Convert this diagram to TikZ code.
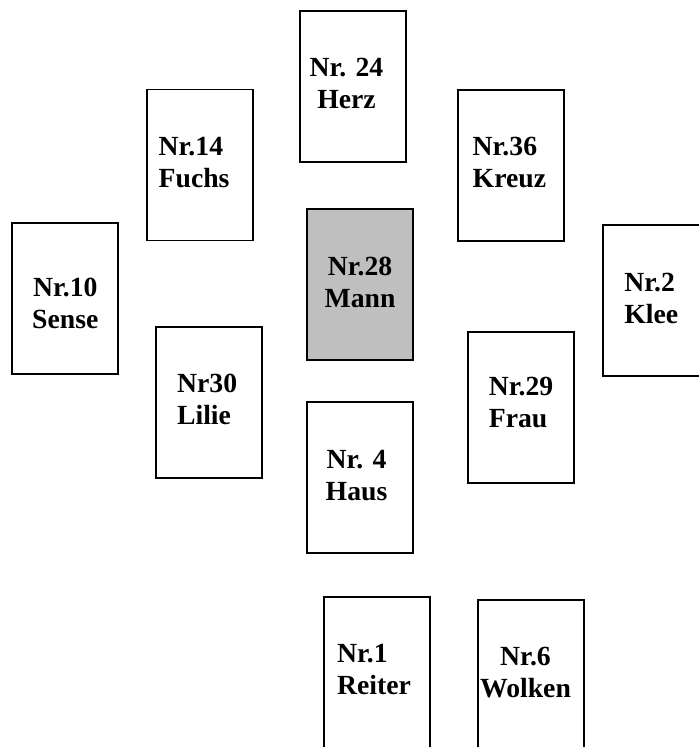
\documentclass[tikz,border=0pt]{standalone}
\usepackage{fontspec}
\setmainfont{Liberation Serif}
\begin{document}
\begin{tikzpicture}[x=0.5pt,y=-0.5pt,
        card/.style={draw=black,rectangle,line width=0.9pt,minimum width=53pt,minimum height=75.5pt,inner sep=0pt,fill=white},
        man/.style={card,fill=black!25},
        lbl/.style={inner sep=0pt,font=\bfseries\fontsize{13.85}{16}\selectfont},
        lblc/.style={lbl,anchor=base,align=center},
        lbll/.style={lbl,anchor=base west,align=left}
      ]
      \useasboundingbox (0,0) rectangle (698,747);
      \node[card] (herz) at (353,86.3) {};
      \node[card] (fuchs) at (199.7,165) {};
      \node[card] (kreuz) at (511,165.2) {};
      \node[card] (sense) at (65.3,298.3) {};
      \node[man] (mann) at (360,284.2) {};
      \node[card] (klee) at (656,300.5) {};
      \node[card] (lilie) at (209.3,402.5) {};
      \node[card] (frau) at (521.3,407.2) {};
      \node[card] (haus) at (360,477.8) {};
      \node[card] (reiter) at (377.3,672.5) {};
      \node[card] (wolken) at (531.3,675.2) {};
      \node[lblc] (herzt) at ([xshift=-3.25pt,yshift=-49.5pt]herz.north) {Nr. 24\\Herz};
      \node[lbll] (fuchst) at ([xshift=-20.7pt,yshift=-49.4pt]fuchs.north) {Nr.14\\Fuchs};
      \node[lbll] (kreuzt) at ([xshift=-19.35pt,yshift=-49.5pt]kreuz.north) {Nr.36\\Kreuz};
      \node[lblc] (senset) at ([yshift=-53.5pt]sense.north) {Nr.10\\Sense};
      \node[lblc] (mannt) at ([yshift=-49.7pt]mann.north) {Nr.28\\Mann};
      \node[lbll] (kleet) at ([xshift=-16pt,yshift=-49.8pt]klee.north) {Nr.2\\Klee};
      \node[lbll] (liliet) at ([xshift=-16.3pt,yshift=-49.2pt]lilie.north) {Nr30\\Lilie};
      \node[lbll] (fraut) at ([xshift=-16.4pt,yshift=-48.5pt]frau.north) {Nr.29\\Frau};
      \node[lblc] (haust) at ([xshift=-1.75pt,yshift=-49.4pt]haus.north) {Nr. 4\\Haus};
      \node[lbll] (reitert) at ([xshift=-20.3pt,yshift=-49.2pt]reiter.north) {Nr.1\\Reiter};
      \node[lblc] (wolkent) at ([xshift=-2.9pt,yshift=-49.2pt]wolken.north) {Nr.6\\Wolken};
    \end{tikzpicture}
\end{document}
